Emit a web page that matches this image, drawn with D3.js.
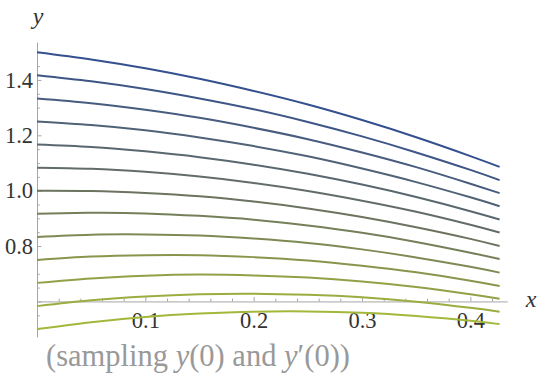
<!DOCTYPE html>
<html><head><meta charset="utf-8">
<script src="https://cdn.jsdelivr.net/npm/d3@7"></script>
<style>body{margin:0;background:#fff}svg{display:block}</style>
</head><body><svg id="c" width="540" height="384"></svg>
<script>
// sample positions along x
const xs = [0, 0.05, 0.1, 0.15, 0.2, 0.25, 0.3, 0.35, 0.4, 0.427];
// curves, from top (y(0)=1.5) to bottom (y(0)=0.5)
const c01 = [1.500,1.474,1.442,1.404,1.360,1.311,1.255,1.193,1.125,1.086];
const c02 = [1.417,1.395,1.367,1.333,1.294,1.248,1.196,1.138,1.075,1.038];
const c03 = [1.333,1.316,1.292,1.263,1.227,1.186,1.138,1.085,1.025,0.991];
const c04 = [1.250,1.237,1.218,1.192,1.161,1.124,1.080,1.031,0.976,0.944];
const c05 = [1.167,1.158,1.142,1.121,1.094,1.061,1.022,0.977,0.926,0.896];
const c06 = [1.083,1.079,1.068,1.051,1.028,0.999,0.964,0.924,0.877,0.849];
const c07 = [1.000,0.999,0.992,0.980,0.961,0.936,0.905,0.868,0.826,0.800];
const c08 = [0.917,0.920,0.918,0.909,0.895,0.874,0.848,0.815,0.776,0.753];
const c09 = [0.833,0.841,0.842,0.838,0.827,0.811,0.788,0.759,0.725,0.704];
const c10 = [0.750,0.762,0.767,0.767,0.760,0.748,0.729,0.705,0.675,0.656];
const c11 = [0.667,0.683,0.693,0.697,0.694,0.686,0.672,0.652,0.626,0.610];
const c12 = [0.583,0.604,0.618,0.626,0.628,0.624,0.615,0.599,0.577,0.563];
const c13 = [0.500,0.525,0.544,0.556,0.563,0.564,0.559,0.547,0.530,0.518];
const curves = [c01,c02,c03,c04,c05,c06,c07,c08,c09,c10,c11,c12,c13];
const xMajor = [0.1, 0.2, 0.3, 0.4];
const yMajor = [0.6, 0.8, 1.0, 1.2, 1.4];
const yLabeled = [0.8, 1.0, 1.2, 1.4];

const svg = d3.select("#c");
const x = d3.scaleLinear().domain([0, 0.434]).range([37, 507.2]);
const y = d3.scaleLinear().domain([0.4715, 1.537]).range([337, 42]);
const axisY0 = 0.6;

const xMinor = d3.range(1, 22).map(i => +(i*0.02).toFixed(2)).filter(v => !xMajor.some(m => Math.abs(m-v)<1e-9));
const yMinor = d3.range(10, 31).map(i => +(i*0.05).toFixed(2)).filter(v => !yMajor.some(m => Math.abs(m-v)<1e-9));

const axisColor = "#a6a6a6";
const font = "'Liberation Serif', 'Times New Roman', serif";

// x axis
svg.append("g").attr("transform", `translate(0,${y(axisY0)})`)
  .call(d3.axisBottom(x).tickValues(xMajor).tickSizeInner(-4.5).tickSizeOuter(0).tickPadding(11).tickFormat(d3.format(".1f")));
svg.append("g").attr("transform", `translate(0,${y(axisY0)})`)
  .call(d3.axisBottom(x).tickValues(xMinor).tickSizeInner(-2.8).tickSizeOuter(0).tickFormat(""))
  .call(g => g.select(".domain").remove());
// y axis
svg.append("g").attr("transform", `translate(${x(0)},0)`)
  .call(d3.axisLeft(y).tickValues(yMajor).tickSizeInner(-4.5).tickSizeOuter(0).tickPadding(4)
    .tickFormat(d => yLabeled.includes(d) ? d3.format(".1f")(d) : ""));
svg.append("g").attr("transform", `translate(${x(0)},0)`)
  .call(d3.axisLeft(y).tickValues(yMinor).tickSizeInner(-2.8).tickSizeOuter(0).tickFormat(""))
  .call(g => g.select(".domain").remove());

svg.selectAll(".domain, .tick line").attr("stroke", axisColor).attr("stroke-width", 1);
svg.selectAll(".tick text").attr("font-family", font).attr("font-size", 22.5).attr("fill", "#333");

// colours: bottom yellow-green -> grey -> navy at top
const col = d3.scaleLinear().domain([0, 6, 12]).range(["#34508e", "#6c735f", "#a3b83a"]).interpolate(d3.interpolateRgb);

const line = d3.line().x((d, i) => x(xs[i])).y(d => y(d)).curve(d3.curveNatural);
svg.append("g").selectAll("path").data(curves).join("path")
  .attr("d", d => line(d))
  .attr("fill", "none")
  .attr("stroke", (d, i) => col(i))
  .attr("stroke-width", 2);

// axis labels
svg.append("text").attr("x", 38).attr("y", 24).attr("text-anchor", "middle")
  .attr("font-family", font).attr("font-style", "italic").attr("font-size", 24).attr("fill", "#333").text("y");
svg.append("text").attr("x", 531).attr("y", 307).attr("text-anchor", "middle")
  .attr("font-family", font).attr("font-style", "italic").attr("font-size", 24).attr("fill", "#333").text("x");

// caption
const cap = svg.append("text").attr("x", 46).attr("y", 366)
  .attr("font-family", font).attr("font-size", 30.5).attr("fill", "#999");
cap.append("tspan").text("(sampling ");
cap.append("tspan").attr("font-style", "italic").text("y");
cap.append("tspan").text("(0) and ");
cap.append("tspan").attr("font-style", "italic").text("y");
cap.append("tspan").text("\u2032(0))");
</script>
</body></html>
